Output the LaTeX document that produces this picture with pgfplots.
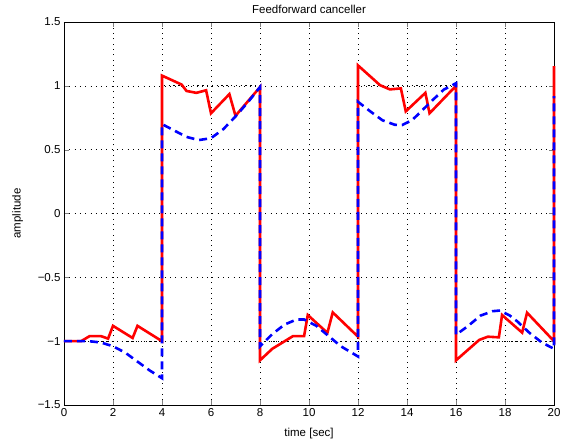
\documentclass[border=0pt]{standalone}
\usepackage{fontspec}
\setmainfont{Liberation Sans}
\usepackage{pgfplots}
\pgfplotsset{compat=1.18}

\begin{document}
\begin{tikzpicture}
\begin{axis}[
    name=ax,
    scale only axis,
    width=490pt, height=383pt,
    xmin=0, xmax=20, ymin=-1.5, ymax=1.5,
    xtick={0,2,...,20},
    ytick={-1.5,-1,-0.5,0,0.5,1,1.5},
    yticklabels={−1.5,−1,−0.5,0,0.5,1,1.5},
    /pgf/number format/assume math mode=true,
    tick label style={font=\fontsize{11.5}{13}\selectfont},
    label style={font=\fontsize{11.5}{13}\selectfont},
    title style={font=\fontsize{11.5}{13}\selectfont, yshift=-1pt},
    title={Feedforward canceller},
    xlabel={time [sec]},
    ylabel={amplitude},
    xlabel style={yshift=-5pt},
    ylabel style={yshift=8pt},
    grid=major,
    major grid style={black, line width=0.4pt, dash pattern=on 0.8pt off 4.5pt},
    tick align=inside,
    major tick length=5pt,
    axis line style={black, line width=0.6pt},
    clip=false,
]

% reference square wave
\addplot[black, line width=1.2pt, dash pattern=on 1.3pt off 3.5pt] coordinates {
(0,-1) (4,-1) (4,1) (8,1) (8,-1) (12,-1) (12,1) (16,1) (16,-1) (20,-1)};

% output (solid red)
\addplot[red, line width=2.6pt, line join=miter] coordinates {
(0,-1) (0.7,-1) (1.05,-0.96) (1.5,-0.96) (1.8,-0.98) (2.0,-0.88) (2.8,-0.975) (3.0,-0.88) (4,-1.0)
(4,1.08) (4.8,1.01) (5.0,0.96) (5.4,0.945) (5.8,0.965) (6.0,0.785) (6.75,0.935) (7.0,0.765) (8,0.99)
(8,-1.15) (8.5,-1.06) (9.35,-0.96) (9.8,-0.96) (9.95,-0.795) (10.75,-0.935) (10.97,-0.775) (12,-0.965)
(12,1.16) (12.9,1.005) (13.3,0.972) (13.75,0.98) (13.95,0.80) (14.75,0.945) (14.92,0.785) (16,1.0)
(16,-1.15) (16.95,-0.99) (17.3,-0.965) (17.75,-0.97) (17.88,-0.795) (18.7,-0.933) (18.9,-0.777) (20,-1.0)
(20,1.155)};

% compensated (dashed blue)
\addplot[blue, line width=2.6pt, dash pattern=on 8pt off 5pt] coordinates {
(0,-1) (1,-1) (1.5,-1.01) (2,-1.04) (2.5,-1.09) (3,-1.16) (3.5,-1.23) (4,-1.29)
(4,0.70) (4.5,0.65) (5,0.60) (5.5,0.575) (6,0.59) (6.5,0.66) (7,0.76) (7.5,0.87) (8,0.99)
(8,-1.04) (8.5,-0.945) (9,-0.87) (9.5,-0.83) (9.8,-0.83) (10.3,-0.88) (10.8,-0.96) (11.3,-1.04) (12,-1.12)
(12,0.875) (12.5,0.80) (13,0.73) (13.5,0.695) (13.8,0.693) (14.2,0.73) (14.5,0.785) (15,0.88) (15.5,0.97) (16,1.02)
(16,-0.95) (16.5,-0.88) (17,-0.80) (17.5,-0.765) (17.8,-0.76) (18.2,-0.80) (18.5,-0.845) (19,-0.935) (19.5,-1.01) (20,-1.06)
(20,0.92)};

\end{axis}
\path ([xshift=-64pt,yshift=-42pt]ax.south west) rectangle ([xshift=14pt,yshift=22pt]ax.north east);
\end{tikzpicture}
\end{document}
